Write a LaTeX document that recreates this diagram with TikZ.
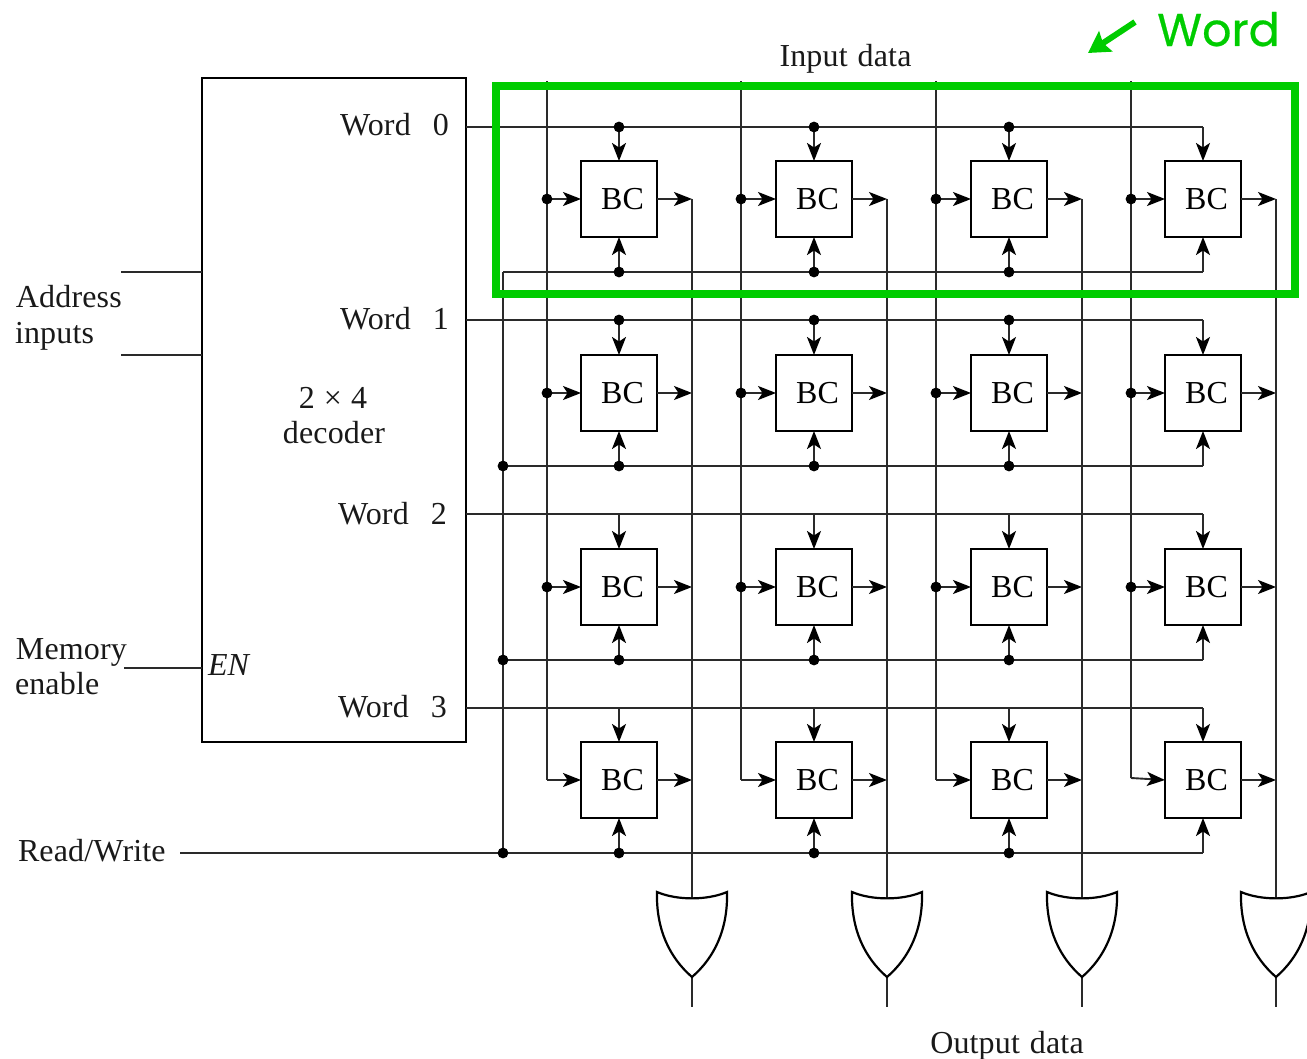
\documentclass[tikz,border=0pt]{standalone}
\usepackage{fontspec}
\setmainfont{Liberation Serif}[LetterSpace=0.5]
\newfontfamily\handfont{Poppins}[FakeBold=0.5]
\usetikzlibrary{arrows.meta,calc}
\definecolor{hlgreen}{HTML}{00CC00}
\definecolor{wirecol}{HTML}{2A2A2A}
\tikzset{
  x=1pt,y=-1pt,
  wire/.style={draw=wirecol,line width=1.9pt},
  flow/.style={wire,-{Stealth[length=18pt,width=14pt,inset=4.5pt,color=black]}},
  cell/.style={draw=black,line width=2.8pt,minimum width=76pt,minimum height=76pt,inner sep=0pt,outer sep=0pt,fill=white,font=\fontsize{32}{32}\selectfont},
  decoderbox/.style={draw=black,line width=2.4pt,minimum width=264pt,minimum height=664pt,inner sep=0pt,outer sep=0pt},
  txt/.style={anchor=base west,inner sep=0pt,outer sep=0pt,font=\fontsize{32}{32}\selectfont,text=black!90},
  txtc/.style={anchor=base,inner sep=0pt,outer sep=0pt,font=\fontsize{32}{32}\selectfont,text=black!90},
  gate/.style={draw=black,line width=2.2pt,line join=miter},
  hl/.style={draw=hlgreen,line width=8pt},
  hlarrow/.style={draw=hlgreen,line width=6pt,-{Stealth[length=21pt,width=24pt,inset=3pt]}},
}
\newcommand{\dotat}[1]{\fill[black] (#1) circle (5.4);}
\begin{document}
\begin{tikzpicture}
\useasboundingbox (0,0) rectangle (1307,1059);
\clip (0,0) rectangle (1307,1059);
% decoder
\node[decoderbox] (dec) at (334,410) {};
\node[txt] (w0) at (340,136) {Word\hspace{22pt}0};
\node[txt] (w1) at (340,330) {Word\hspace{22pt}1};
\node[txt] (w2) at (338,524) {Word\hspace{22pt}2};
\node[txt] (w3) at (338,717.5) {Word\hspace{22pt}3};
\node[txtc] (dsize) at (333,408) {2\hspace{9pt}×\hspace{9pt}4};
\node[txtc] (dname) at (334,443.5) {decoder};
\node[txt] (en) at (208,675.5) {\itshape EN};
\node[txt] (addr1) at (16,308) {Address};
\node[txt] (addr2) at (15,344) {inputs};
\node[txt] (mem1) at (16,659) {Memory};
\node[txt] (mem2) at (15,694) {enable};
\node[txt] (rw) at (18,861) {Read/Write};
\node[txtc] (indata) at (845.5,66.5) {Input\hspace{10pt}data};
\node[txtc] (outdata) at (1007,1053) {Output\hspace{10pt}data};
% free ends
\coordinate (a1) at (121,272);
\coordinate (a2) at (121,355);
\coordinate (me) at (124,668);
\coordinate (rws) at (180,853);
\draw[wire] (a1) -- (a1 -| dec.west);
\draw[wire] (a2) -- (a2 -| dec.west);
\draw[wire] (me) -- (me -| dec.west);
% cells and named junctions
\foreach \r/\cy/\wy/\ry in {0/199/127/272,1/393/320/466,2/587/514/660,3/780/708/853}{
  \foreach \c/\cx/\ix/\ox in {0/619/547/692,1/814/741/887,2/1009/936/1082,3/1203/1131/1276}{
    \node[cell] (b\r\c) at (\cx,\cy) {\hspace*{7pt}BC};
    \coordinate (wj\r\c) at (\cx,\wy);
    \coordinate (rj\r\c) at (\cx,\ry);
    \coordinate (ij\r\c) at (\ix,\cy);
    \coordinate (oj\r\c) at (\ox,\cy);
    \draw[flow] (wj\r\c) -- (b\r\c.north);
    \draw[flow] (rj\r\c) -- (b\r\c.south);
    \draw[flow] (b\r\c.east) -- (oj\r\c);
  }
  \coordinate (wl\r) at (dec.east |- 0,\wy);
  \coordinate (rl\r) at (503,\ry);
  \draw[wire] (wl\r) -- (wj\r3);
  \draw[wire] (rl\r) -- (rj\r3);
}
\draw[wire] (rws) -- (rl3);
\draw[wire] (rl0) -- (rl3);
% input data columns
\foreach \c/\ix in {0/547,1/741,2/936}{
  \coordinate (it\c) at (\ix,81);
  \draw[wire] (it\c) -- (ij3\c);
  \foreach \r in {0,1,2}{ \draw[flow] (ij\r\c) -- (b\r\c.west); }
  \draw[flow] (ij3\c) -- (b3\c.west);
}
\coordinate (it3) at (1131,81);
\coordinate (ibend) at (1131,778);
\draw[wire] (it3) -- (ibend);
\foreach \r in {0,1,2}{ \draw[flow] (ij\r3) -- (b\r3.west); }
\draw[flow] (ibend) -- (b33.west);
% output columns and OR gates
\foreach \c/\ox in {0/692,1/887,2/1082,3/1276}{
  \coordinate (gt\c) at (\ox,898);
  \coordinate (gl\c) at (\ox-35,892);
  \coordinate (gr\c) at (\ox+35,892);
  \coordinate (gb\c) at (\ox,977);
  \coordinate (ge\c) at (\ox,1007);
  \draw[wire] (oj0\c) -- (gt\c);
  \draw[wire] (gb\c) -- (ge\c);
  \draw[gate] (gl\c) .. controls ($(gl\c)+(20,8.5)$) and ($(gr\c)+(-20,8.5)$) .. (gr\c)
     .. controls ($(gr\c)+(1,38)$) and ($(gr\c)+(-13,66)$) .. (gb\c)
     .. controls ($(gl\c)+(13,66)$) and ($(gl\c)+(-1,38)$) .. cycle;
}
% junction dots
\foreach \r in {0,1}{\foreach \c in {0,1,2}{\dotat{wj\r\c}}}
\foreach \r in {0,1,2,3}{\foreach \c in {0,1,2}{\dotat{rj\r\c}}}
\foreach \r in {0,1,2}{\foreach \c in {0,1,2,3}{\dotat{ij\r\c}}}
\foreach \r in {1,2,3}{\dotat{rl\r}}
% highlight
\coordinate (h1) at (496,86);
\coordinate (h2) at (1295,294);
\draw[hl] (h1) rectangle (h2);
\coordinate (ha) at (1135,22);
\coordinate (hb) at (1088,53);
\draw[hlarrow] (ha) -- (hb);
\node[anchor=base west,inner sep=0pt,font=\handfont\fontsize{46}{46}\selectfont,text=hlgreen] (wordlab) at (1157,46) {Word};
\end{tikzpicture}
\end{document}
